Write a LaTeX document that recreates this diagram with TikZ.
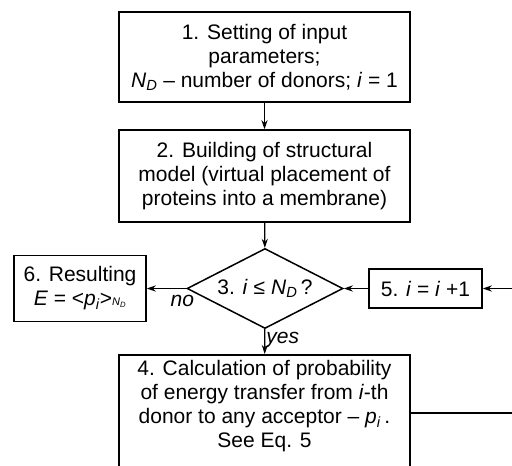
\documentclass[tikz,border=0pt]{standalone}
\usepackage{fontspec}
\setmainfont{Liberation Sans}
\usetikzlibrary{shapes,arrows.meta,positioning}

\begin{document}
\begin{tikzpicture}[x=1pt, y=-1pt,
    stepbox/.style={draw, line width=1.5pt, align=center, inner sep=0pt,
        font=\fontsize{21}{24}\selectfont},
    decision/.style={draw, line width=1.5pt, diamond, align=center, inner sep=0pt,
        shape aspect=1.95, minimum width=156pt, minimum height=80pt,
        font=\fontsize{21}{24}\selectfont},
    flow/.style={line width=1.2pt, -{Stealth[length=9pt, width=6pt]}},
    lbl/.style={font=\itshape\fontsize{21}{24}\selectfont}]

    \useasboundingbox (0,0) rectangle (512,466);

    % Input and model
    \node[stepbox, minimum width=291pt, minimum height=90pt] (input) at (264.5,57)
        {1. Setting of input\\ parameters;\\
         \textit{N}\textsubscript{\textit{D}} -- number of donors; \textit{i} = 1};
    \node[stepbox, minimum width=291pt, minimum height=92pt] (model) at (264.5,176)
        {2. Building of structural\\ model (virtual placement of\\ proteins into a membrane)};

    % Loop test
    \node[decision] (test) at (265,288.5)
        {3. \textit{i} ≤ \textit{N}\textsubscript{\textit{D}}\,?};
    \node[stepbox, minimum width=132pt, minimum height=66pt] (result) at (80,288.5)
        {6. Resulting\\ \textit{E} = <\textit{p}\textsubscript{\textit{i}}>%
         {\fontsize{11}{11}\selectfont\textit{N}\textsubscript{\textit{D}}}};
    \node[stepbox, minimum width=113pt, minimum height=39pt] (incr) at (425.5,288.5)
        {5. \textit{i} = \textit{i} +1};

    % Probability
    \node[stepbox, minimum width=291pt, anchor=north, inner ysep=6pt] (calc) at (264.5,354)
        {4. Calculation of probability\\ of energy transfer from \textit{i}-th\\
         donor to any acceptor -- \textit{p}\textsubscript{\textit{i}}\,.\\
         See Eq. 5\rule[-19pt]{0pt}{19pt}};

    % Connectors
    \coordinate (loopdown) at (518,413);
    \coordinate (loopup) at (518,288.5);
    \draw[flow] (input) -- (model);
    \draw[flow] (model) -- (test);
    \draw[flow] (test) -- node[lbl, below, pos=0.1, yshift=-3pt] {no} (result);
    \draw[flow] (test) -- node[lbl, right, pos=0.45, inner sep=1pt] {yes} (calc);
    \draw[flow] (incr) -- (test);
    \draw[line width=1.2pt] (calc.east |- loopdown) -- (loopdown) -- (loopup);
    \draw[flow] (loopup) -- (incr);
\end{tikzpicture}
\end{document}
